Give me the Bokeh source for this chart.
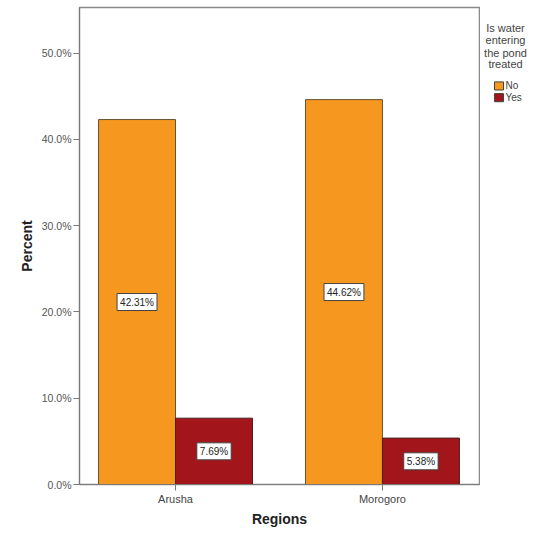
from bokeh.plotting import figure
from bokeh.models import ColumnDataSource, Range1d, FixedTicker
from bokeh.layouts import row
from bokeh.transform import dodge
from bokeh.core.properties import value
from bokeh.embed import file_html
from bokeh.resources import INLINE

regions = ["Arusha", "Morogoro"]
pct_no = [42.31, 44.62]
pct_yes = [7.69, 5.38]
series_names = ["No", "Yes"]
y_ticks = [0, 10, 20, 30, 40, 50]
y_tick_labels = ["0.0%", "10.0%", "20.0%", "30.0%", "40.0%", "50.0%"]
legend_title_lines = ["Is water", "entering", "the pond", "treated"]

ORANGE = "#F6971F"
RED = "#A2151B"
FONT = "Liberation Sans"
series_colors = [ORANGE, RED]

idx = list(range(len(regions)))
src = ColumnDataSource(dict(
    x=idx,
    no=pct_no,
    yes=pct_yes,
    no_half=[v / 2 for v in pct_no],
    yes_half=[v / 2 for v in pct_yes],
    no_lab=[f"{v:.2f}%" for v in pct_no],
    yes_lab=[f"{v:.2f}%" for v in pct_yes],
))

p = figure(width=480, height=529, output_backend="svg", toolbar_location=None,
           x_range=Range1d(-0.464, 1.469), y_range=Range1d(0, 55.3),
           min_border_left=79, min_border_right=1, min_border_top=7,
           min_border_bottom=45)

bw = 0.372
off = bw / 2
p.vbar(x=dodge("x", -off, range=p.x_range), top="no", width=bw, source=src,
       fill_color=ORANGE, line_color="#6a5030", line_width=1)
p.vbar(x=dodge("x", off, range=p.x_range), top="yes", width=bw, source=src,
       fill_color=RED, line_color="#4a2020", line_width=1)

common = dict(text_align="center", text_baseline="middle", text_font=value(FONT),
              text_font_size="10px", text_color="#222222",
              background_fill_color="white", border_line_color="#444444",
              border_line_width=1, padding=3)
p.text(x=dodge("x", -off, range=p.x_range), y="no_half", text="no_lab", source=src, **common)
p.text(x=dodge("x", off, range=p.x_range), y="yes_half", text="yes_lab", source=src, **common)

p.xgrid.visible = False
p.ygrid.visible = False
p.outline_line_color = "#8a8a8a"
p.outline_line_width = 1.5

xa = p.xaxis[0]
xa.ticker = FixedTicker(ticks=idx)
xa.major_label_overrides = {i: r for i, r in zip(idx, regions)}
xa.axis_label = "Regions"
xa.axis_label_text_font = FONT
xa.axis_label_text_font_style = "bold"
xa.axis_label_text_font_size = "14px"
xa.axis_label_text_color = "#222222"
xa.axis_label_standoff = 3
xa.major_label_text_font = FONT
xa.major_label_text_font_size = "11px"
xa.major_label_text_color = "#444444"
xa.major_label_standoff = 2
xa.major_tick_out = 6
xa.major_tick_in = 0
xa.minor_tick_out = 0
xa.minor_tick_in = 0
xa.axis_line_color = "#7a7a7a"
xa.major_tick_line_color = "#7a7a7a"

ya = p.yaxis[0]
ya.ticker = FixedTicker(ticks=y_ticks)
ya.major_label_overrides = {t: l for t, l in zip(y_ticks, y_tick_labels)}
ya.axis_label = "Percent"
ya.axis_label_text_font = FONT
ya.axis_label_text_font_style = "bold"
ya.axis_label_text_font_size = "14px"
ya.axis_label_text_color = "#222222"
ya.axis_label_standoff = 4
ya.major_label_text_font = FONT
ya.major_label_text_font_size = "10.5px"
ya.major_label_text_color = "#555555"
ya.major_label_standoff = 2
ya.major_tick_out = 6
ya.major_tick_in = 0
ya.minor_tick_out = 0
ya.minor_tick_in = 0
ya.axis_line_color = "#7a7a7a"
ya.major_tick_line_color = "#7a7a7a"

# legend panel (pixel coordinates, y measured from top)
lg = figure(width=49, height=529, output_backend="svg", toolbar_location=None,
            x_range=Range1d(479, 528), y_range=Range1d(529, 0),
            x_axis_location=None, y_axis_location=None,
            min_border_left=0, min_border_right=0, min_border_top=0,
            min_border_bottom=0)
lg.xgrid.visible = False
lg.ygrid.visible = False
lg.outline_line_color = None

title_y = [23, 36, 50, 63]
lg.text(x=[504] * len(legend_title_lines), y=title_y, text=legend_title_lines,
        text_align="center", text_baseline="middle", text_font=value(FONT),
        text_font_size="11px", text_color="#444444")
item_y = [87, 100]
lg.rect(x=[497.5] * len(series_names), y=item_y, width=9, height=9,
        fill_color=series_colors, line_color="#444444", line_width=1)
lg.text(x=[504] * len(series_names), y=item_y, text=series_names,
        text_align="left", text_baseline="middle", text_font=value(FONT),
        text_font_size="10px", text_color="#444444")

layout = row(p, lg, spacing=0)
open("out.html", "w").write(file_html(layout, INLINE))
